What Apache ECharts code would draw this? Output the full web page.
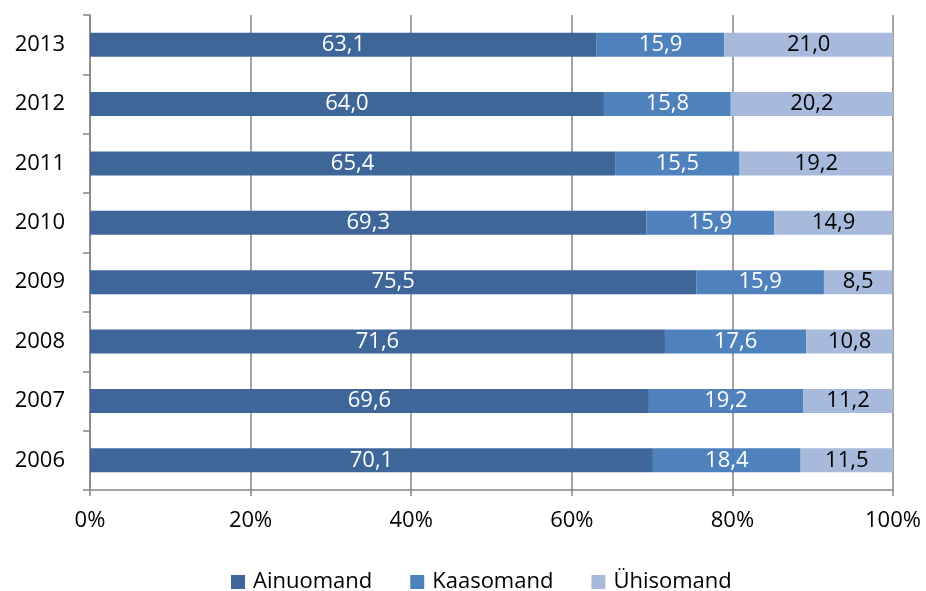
<!DOCTYPE html>
<html><head><meta charset="utf-8">
<script src="https://cdn.jsdelivr.net/npm/echarts@6/dist/echarts.min.js"></script>
<style>html,body{margin:0;padding:0;background:#fff}#c{width:926px;height:591px}</style>
</head><body><div id="c"></div>
<script>
const years = ['2006','2007','2008','2009','2010','2011','2012','2013'];
const ainuomand = [70.1, 69.6, 71.6, 75.5, 69.3, 65.4, 64.0, 63.1];
const kaasomand = [18.4, 19.2, 17.6, 15.9, 15.9, 15.5, 15.8, 15.9];
const yhisomand = [11.5, 11.2, 10.8, 8.5, 14.9, 19.2, 20.2, 21.0];
const xTicks = [0, 20, 40, 60, 80, 100];

const FONT = "'Open Sans',sans-serif";
const fmt = p => p.value.toFixed(1).replace('.', ',');
function ser(name, data, color, labelColor) {
  return {
    name, type: 'bar', stack: 'a', data, barWidth: 24,
    itemStyle: { color },
    label: { show: true, position: 'inside', formatter: fmt, color: labelColor, fontSize: 22, fontFamily: FONT },
    emphasis: { disabled: true }
  };
}
const chart = echarts.init(document.getElementById('c'));
chart.setOption({
  animation: false,
  grid: { left: 90, right: 33, top: 15, bottom: 101 },
  legend: {
    top: 566, left: 226, itemWidth: 14, itemHeight: 14, itemGap: 38,
    icon: 'rect',
    textStyle: { fontSize: 22, fontFamily: FONT, color: '#000', padding: [0, 0, 0, 3] },
    data: ['Ainuomand', 'Kaasomand', 'Ühisomand']
  },
  xAxis: {
    type: 'value', min: 0, max: 100, interval: 20,
    axisLabel: { formatter: v => v + '%', fontSize: 22, fontFamily: FONT, color: '#000', margin: 20 },
    axisLine: { show: true, lineStyle: { color: '#868686', width: 1.5 } },
    axisTick: { show: true, length: 6, lineStyle: { color: '#868686', width: 1.5 } },
    splitLine: { show: true, lineStyle: { color: '#868686', width: 1.5 } }
  },
  yAxis: {
    type: 'category', data: years,
    axisLabel: { fontSize: 22, fontFamily: FONT, color: '#000', margin: 25 },
    axisLine: { show: true, lineStyle: { color: '#868686', width: 1.5 } },
    axisTick: { show: true, length: 7, lineStyle: { color: '#868686', width: 1.5 } }
  },
  series: [
    ser('Ainuomand', ainuomand, '#3F6699', '#fff'),
    ser('Kaasomand', kaasomand, '#4F81BD', '#fff'),
    ser('Ühisomand', yhisomand, '#A8BADB', '#000')
  ]
});
</script></body></html>
